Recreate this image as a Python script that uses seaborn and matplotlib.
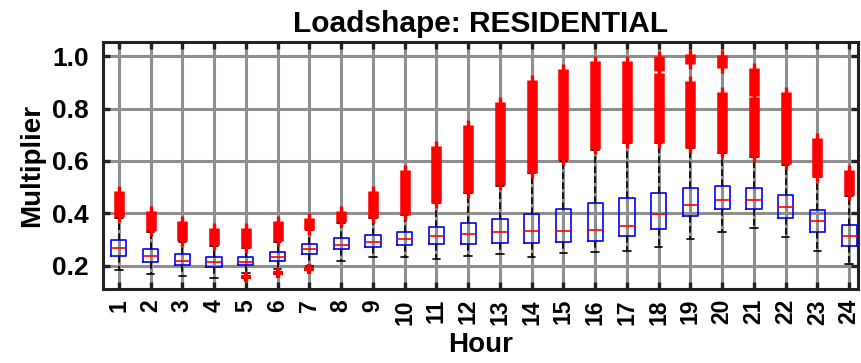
import matplotlib
matplotlib.use("Agg")
import matplotlib.pyplot as plt
import numpy as np
import pandas as pd
import seaborn as sns

# ---- data ----
hours = [str(h) for h in range(1, 25)]
whisker_low = [0.182, 0.167, 0.161, 0.153, 0.172, 0.186, 0.200, 0.217, 0.232, 0.232, 0.226, 0.236,
               0.244, 0.235, 0.250, 0.252, 0.258, 0.273, 0.301, 0.327, 0.346, 0.311, 0.258, 0.206]
quart1 = [0.236, 0.215, 0.203, 0.196, 0.201, 0.219, 0.246, 0.265, 0.273, 0.279, 0.283, 0.284,
          0.287, 0.287, 0.290, 0.296, 0.313, 0.342, 0.390, 0.416, 0.416, 0.384, 0.328, 0.277]
median = [0.268, 0.237, 0.220, 0.215, 0.214, 0.234, 0.264, 0.278, 0.292, 0.302, 0.312, 0.320,
          0.327, 0.331, 0.331, 0.337, 0.352, 0.398, 0.432, 0.450, 0.452, 0.423, 0.370, 0.314]
quart3 = [0.297, 0.264, 0.243, 0.232, 0.232, 0.251, 0.284, 0.307, 0.316, 0.329, 0.347, 0.363,
          0.378, 0.398, 0.416, 0.439, 0.459, 0.477, 0.498, 0.506, 0.498, 0.469, 0.414, 0.355]
whisker_high = [0.383, 0.329, 0.291, 0.277, 0.266, 0.291, 0.336, 0.364, 0.381, 0.393, 0.438, 0.476,
                0.505, 0.553, 0.601, 0.642, 0.668, 0.668, 0.648, 0.629, 0.614, 0.585, 0.537, 0.467]

# dense high outliers, drawn as ranges (hour, low, high)
outlier_hour = ["1", "2", "3", "4", "5", "6", "7", "8", "9", "10", "11", "12", "13", "14", "15",
                "16", "17", "18", "18", "19", "19", "20", "20", "21", "21", "22", "23", "24"]
outlier_low = [0.385, 0.331, 0.293, 0.279, 0.268, 0.293, 0.338, 0.366, 0.383, 0.395, 0.440, 0.478,
               0.507, 0.555, 0.603, 0.644, 0.670, 0.670, 0.945, 0.650, 0.970, 0.631, 0.956, 0.616,
               0.849, 0.587, 0.539, 0.469]
outlier_high = [0.485, 0.410, 0.370, 0.343, 0.344, 0.370, 0.383, 0.408, 0.487, 0.564, 0.657, 0.736,
                0.826, 0.909, 0.951, 0.980, 0.983, 0.935, 1.000, 0.905, 1.008, 0.864, 1.005, 0.843,
                0.955, 0.864, 0.689, 0.564]

# single low outliers
low_out_hour = ["5", "6", "7"]
low_out_value = [0.157, 0.172, 0.189]

# ---- build long table: five values per hour reproduce the box statistics ----
rows = []
for i, h in enumerate(hours):
    for v in (whisker_low[i], quart1[i], median[i], quart3[i], whisker_high[i]):
        rows.append({"Hour": h, "Multiplier": v})
df = pd.DataFrame(rows)

sns.set_theme(style="white")
plt.rcParams["font.family"] = ["Liberation Sans", "DejaVu Sans"]
plt.rcParams["font.weight"] = "bold"
plt.rcParams["text.color"] = "black"
plt.rcParams["axes.labelcolor"] = "black"
plt.rcParams["xtick.color"] = "black"
plt.rcParams["ytick.color"] = "black"

fig = plt.figure(figsize=(8.61, 3.63), dpi=100)
ax = fig.add_axes([0.1196, 0.2030, 0.8770, 0.6810])

sns.boxplot(
    data=df, x="Hour", y="Multiplier", order=hours, ax=ax,
    whis=(0, 100), showfliers=False, width=0.48, fill=False,
    linewidth=1.2,
    boxprops=dict(color="#0000ff", linewidth=1.2),
    medianprops=dict(color="#ff0000", linewidth=1.2),
    whiskerprops=dict(color="black", linestyle=(0, (4, 2)), linewidth=1.2),
    capprops=dict(color="black", linewidth=1.2),
    zorder=3,
)

GRID = "#8f8f8f"
ax.set_axisbelow(True)
ax.xaxis.grid(True, color=GRID, linewidth=2.2)
ax.yaxis.grid(True, color=GRID, linewidth=2.2)

# dense outliers as thick red runs of '+' markers
pos = {h: i for i, h in enumerate(hours)}
for h, lo, hi in zip(outlier_hour, outlier_low, outlier_high):
    x = pos[h]
    ax.plot([x, x], [lo, hi], color="#ff0000", linewidth=7.6,
            solid_capstyle="butt", zorder=4)
    ax.plot([x, x], [lo, hi], color="#ff0000", linewidth=2.2, marker="|",
            markersize=7, markeredgewidth=2.4, solid_capstyle="butt", zorder=4)

ax.plot([pos[h] for h in low_out_hour], low_out_value, linestyle="none",
        marker="+", markersize=7.5, markeredgewidth=3.0, color="#ff0000", zorder=4)

ax.set_xlim(-0.5, 23.28)
ax.set_ylim(0.11, 1.054)
ax.set_yticks([0.2, 0.4, 0.6, 0.8, 1.0])
ax.set_yticklabels(["0.2", "0.4", "0.6", "0.8", "1.0"])
ax.set_xticks(range(len(hours)))
ax.set_xticklabels(hours, rotation=90)

for s in ax.spines.values():
    s.set_visible(True)
    s.set_color("#222222")
    s.set_linewidth(2.2)

ax.tick_params(axis="both", direction="in", length=5, width=2.4, color="#222222",
               top=True, right=True, bottom=True, left=True)
ax.tick_params(axis="y", labelsize=19, pad=10, labelcolor="black")
ax.tick_params(axis="x", labelsize=16.5, pad=7, labelcolor="black")
for lab in ax.get_xticklabels() + ax.get_yticklabels():
    lab.set_fontweight("bold")

ax.set_title("Loadshape: RESIDENTIAL", fontsize=21.5, fontweight="bold", pad=7, color="black")
ax.set_xlabel("Hour", fontsize=20, fontweight="bold", labelpad=5, color="black")
ax.set_ylabel("Multiplier", fontsize=20, fontweight="bold", labelpad=5, color="black")

fig.savefig("out.png", dpi=100)
